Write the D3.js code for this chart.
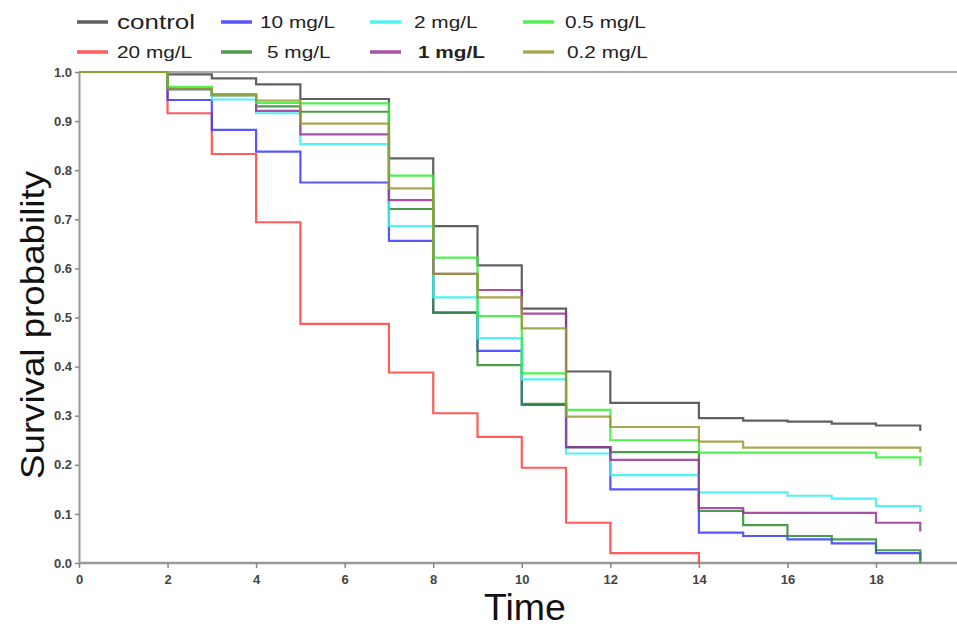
<!DOCTYPE html>
<html>
<head>
<meta charset="utf-8">
<script src="https://cdn.jsdelivr.net/npm/d3@7"></script>
<style>
  body { margin: 0; background: #fff; }
  svg { display: block; font-family: "Liberation Sans", Arial, sans-serif; }
</style>
</head>
<body>
<div class="chart"></div>
<script>
// step times shared by every curve
const times = [0, 2, 3, 4, 5, 7, 8, 9, 10, 11, 12, 14, 15, 16, 17, 18, 19];

const control = [1, 0.995, 0.987, 0.975, 0.945, 0.824, 0.686, 0.606, 0.518, 0.39, 0.326, 0.295, 0.29, 0.288, 0.284, 0.28, 0.269];
const mg20 = [1, 0.916, 0.833, 0.694, 0.487, 0.388, 0.305, 0.257, 0.194, 0.082, 0.02, 0];
const mg10 = [1, 0.943, 0.882, 0.838, 0.775, 0.656, 0.51, 0.432, 0.322, 0.236, 0.15, 0.062, 0.055, 0.048, 0.04, 0.02, 0.005];
const mg5 = [1, 0.965, 0.953, 0.93, 0.919, 0.721, 0.51, 0.403, 0.324, 0.236, 0.226, 0.106, 0.077, 0.055, 0.048, 0.026, 0];
const mg2 = [1, 0.965, 0.944, 0.916, 0.853, 0.686, 0.541, 0.458, 0.374, 0.223, 0.179, 0.144, 0.144, 0.137, 0.131, 0.116, 0.104];
const mg1 = [1, 0.965, 0.953, 0.921, 0.873, 0.739, 0.589, 0.556, 0.508, 0.236, 0.21, 0.112, 0.102, 0.102, 0.102, 0.082, 0.064];
const mg05 = [1, 0.97, 0.953, 0.937, 0.936, 0.789, 0.622, 0.503, 0.386, 0.312, 0.25, 0.225, 0.225, 0.225, 0.225, 0.215, 0.198];
const mg02 = [1, 0.966, 0.955, 0.942, 0.895, 0.763, 0.589, 0.541, 0.478, 0.298, 0.277, 0.247, 0.235, 0.235, 0.235, 0.235, 0.225];

const xTicks = [0, 2, 4, 6, 8, 10, 12, 14, 16, 18];
const yTicks = [0, 0.1, 0.2, 0.3, 0.4, 0.5, 0.6, 0.7, 0.8, 0.9, 1.0];

// drawing order: olive ends up on top
const series = [
  { name: "control", values: control, color: "#444444" },
  { name: "20 mg/L", values: mg20, color: "#ff4040" },
  { name: "10 mg/L", values: mg10, color: "#3a3aff" },
  { name: "5 mg/L", values: mg5, color: "#2e8b2e" },
  { name: "2 mg/L", values: mg2, color: "#33f0f0" },
  { name: "1 mg/L", values: mg1, color: "#993399" },
  { name: "0.5 mg/L", values: mg05, color: "#33ee33" },
  { name: "0.2 mg/L", values: mg02, color: "#999933" }
];

// legend: two rows, four columns (order as in the original key)
const legendOrder = ["control", "10 mg/L", "2 mg/L", "0.5 mg/L", "20 mg/L", "5 mg/L", "1 mg/L", "0.2 mg/L"];

const W = 957, H = 628;
const svg = d3.select(".chart").append("svg").attr("width", W).attr("height", H);

const x = d3.scaleLinear().domain([0, 19]).range([79, 79 + 19 * (797 / 18)]);
const y = d3.scaleLinear().domain([0, 1]).range([563, 72]);

// frame lines: top at 1.0 and bottom axis running to the right edge
svg.append("line")
  .attr("x1", x(0)).attr("x2", W).attr("y1", y(1)).attr("y2", y(1))
  .attr("stroke", "#aaa").attr("stroke-width", 2);
svg.append("line")
  .attr("x1", x(0)).attr("x2", W).attr("y1", y(0)).attr("y2", y(0))
  .attr("stroke", "#999").attr("stroke-width", 2.5);

const xAxis = svg.append("g")
  .attr("transform", "translate(0," + y(0) + ")")
  .call(d3.axisBottom(x).tickValues(xTicks).tickSize(5).tickSizeOuter(0).tickPadding(7).tickFormat(d3.format("d")));
xAxis.select(".domain").remove();

const yAxis = svg.append("g")
  .attr("transform", "translate(" + x(0) + ",0)")
  .call(d3.axisLeft(y).tickValues(yTicks).tickSize(4).tickSizeOuter(0).tickPadding(3).tickFormat(d3.format(".1f")));
yAxis.select(".domain").attr("stroke", "#999").attr("stroke-width", 2);

svg.selectAll(".tick line").attr("stroke", "#888").attr("stroke-width", 1.5);
svg.selectAll(".tick text")
  .attr("fill", "#444")
  .style("font-size", "13px")
  .style("font-weight", "bold")
  .style("font-family", "'Liberation Sans Narrow', 'Liberation Sans', Arial, sans-serif");

const line = d3.line()
  .x((d) => x(d[0]))
  .y((d) => y(d[1]))
  .curve(d3.curveStepAfter);

svg.append("g")
  .selectAll("path")
  .data(series)
  .enter()
  .append("path")
  .attr("d", (s) => line(s.values.map((v, i) => [times[i], v])))
  .attr("fill", "none")
  .attr("stroke", (s) => s.color)
  .attr("stroke-width", 2.2)
  .attr("stroke-opacity", 0.85);

// legend
const colX = [77, 221, 370, 523];
const rowY = [22, 52];
const textGap = [40, 39, 44, 42];
const legendData = legendOrder.map((n, i) => {
  const s = series.find((d) => d.name === n);
  return { name: n, color: s.color, col: i % 4, row: Math.floor(i / 4) };
});
const leg = svg.append("g").selectAll("g").data(legendData).enter().append("g");
leg.append("line")
  .attr("x1", (d) => colX[d.col]).attr("x2", (d) => colX[d.col] + 31)
  .attr("y1", (d) => rowY[d.row]).attr("y2", (d) => rowY[d.row])
  .attr("stroke", (d) => d.color).attr("stroke-width", 3.5).attr("stroke-opacity", 0.85);
leg.append("text")
  .attr("transform", (d) => {
    let tx = colX[d.col] + textGap[d.col];
    if (d.row === 1 && d.col === 1) tx += 7;
    if (d.row === 1 && d.col === 2) tx += 4;
    if (d.row === 1 && d.col === 3) tx += 2;
    return "translate(" + tx + "," + rowY[d.row] + ") scale(1.3,1)";
  })
  .attr("dy", "0.35em")
  .attr("fill", "#222")
  .style("font-size", (d) => (d.name === "control" ? "20px" : "16px"))
  .style("font-weight", (d) => (d.name === "1 mg/L" ? "bold" : "normal"))
  .text((d) => d.name);

// axis titles
svg.append("text")
  .attr("transform", "translate(44,325) rotate(-90)")
  .attr("text-anchor", "middle")
  .attr("fill", "#111")
  .attr("textLength", 308)
  .attr("lengthAdjust", "spacingAndGlyphs")
  .style("font-size", "33px")
  .text("Survival probability");

svg.append("text")
  .attr("x", 525)
  .attr("y", 620)
  .attr("text-anchor", "middle")
  .attr("fill", "#111")
  .attr("textLength", 82)
  .attr("lengthAdjust", "spacingAndGlyphs")
  .style("font-size", "37px")
  .text("Time");
</script>
</body>
</html>
